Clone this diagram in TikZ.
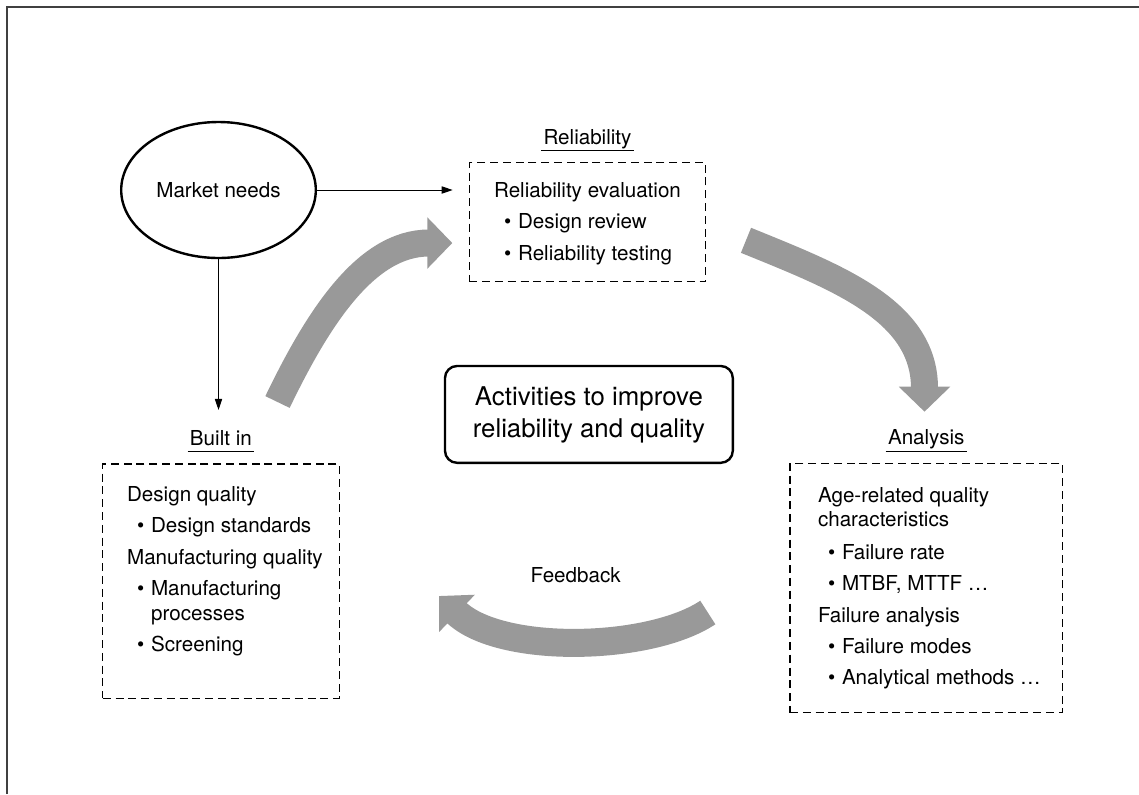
\documentclass[tikz,border=0pt]{standalone}
\usepackage{fontspec}
\setmainfont{TeX Gyre Heros}
\usetikzlibrary{arrows.meta,positioning,shapes.geometric}

\newcommand\boxfont{\fontsize{10.3pt}{12.25pt}\selectfont}
\newcommand\bul{\hspace*{5pt}\makebox[7pt][l]{\textbullet}}
\newcommand\hang{\hspace*{12pt}}

\tikzset{
  frame/.style={draw=black!75, line width=1pt},
  dbox/.style={draw=black, line width=0.6pt, dash pattern=on 4pt off 2.4pt, inner sep=0pt},
  head/.style={inner sep=0pt, text depth=0pt, font=\boxfont},
  body/.style={inner sep=0pt, anchor=base west, font=\boxfont},
  uline/.style={line width=0.5pt},
  arr/.style={-{Triangle[length=5.5pt,width=3.6pt]}, line width=0.5pt},
  bigarr/.style={-{Triangle[length=12.5pt,width=25pt]}, line width=13.5pt, draw=black!40}
}

\begin{document}
\begin{tikzpicture}[x=0.5pt, y=-0.5pt, font=\boxfont, node distance=8.8pt]
  \useasboundingbox (0,0) rectangle (1139,794);
  \draw[frame] (7,794) -- (7,6.5) -- (1139,6.5);

  \node[ellipse, draw, line width=1.2pt, minimum width=95.5pt, minimum height=68pt] (mkt) at (218.5,190) {Market needs};

  % dashed boxes with their underlined headings
  \node[dbox, minimum width=118.2pt, minimum height=59.5pt] (rel) at (587.5,222.2) {};
  \node[dbox, minimum width=118.2pt, minimum height=117.2pt] (built) at (220.9,581.2) {};
  \node[dbox, minimum width=136.2pt, minimum height=124.7pt] (ana) at (926.2,588) {};

  \node[head, above=of rel] (rellab) {Reliability};
  \node[head, above=of built] (builtlab) {Built in};
  \node[head, above=of ana] (analab) {Analysis};
  \foreach \n in {rellab,builtlab,analab}
    \draw[uline] ([xshift=-1pt,yshift=-3pt]\n.south west) -- ([xshift=1pt,yshift=-3pt]\n.south east);

  \node[body] (reltext) at ([xshift=12.5pt,yshift=-17.5pt]rel.north west) {%
    \begin{tabular}[t]{@{}l@{}}
      Reliability evaluation\\[3.5pt]
      \bul Design review\\[3.5pt]
      \bul Reliability testing
    \end{tabular}};
  \node[body] (builttext) at ([xshift=12.3pt,yshift=-18.85pt]built.north west) {%
    \begin{tabular}[t]{@{}l@{}}
      Design quality\\[3.3pt]
      \bul Design standards\\[4pt]
      Manufacturing quality\\[3.3pt]
      \bul Manufacturing\\
      \hang processes\\[3.3pt]
      \bul Screening
    \end{tabular}};
  \node[body] (anatext) at ([xshift=14.1pt,yshift=-19.7pt]ana.north west) {%
    \begin{tabular}[t]{@{}l@{}}
      Age-related quality\\
      characteristics\\[4pt]
      \bul Failure rate\\[3.5pt]
      \bul MTBF, MTTF …\\[3.5pt]
      Failure analysis\\[3.3pt]
      \bul Failure modes\\[3.5pt]
      \bul Analytical methods …
    \end{tabular}};

  \node[draw, rounded corners=6pt, line width=1.2pt, minimum width=143.9pt, minimum height=48.4pt,
    align=center, font=\fontsize{12.9pt}{16pt}\selectfont] (core) at (588.9,414.4)
    {Activities to improve\\reliability and quality};

  \node[inner sep=0pt, anchor=base] (fb) at (575.7,582.7) {Feedback};

  \draw[arr, shorten >=8pt] (mkt.east) -- (mkt.east -| rel.west);
  \draw[arr, shorten >=10pt] (mkt.south) -- (mkt.south |- builtlab.north);

  % wide grey arrows of the loop
  \coordinate (up0) at (277.5,402);
  \coordinate (up1) at (452.3,243);
  \coordinate (dn0) at (746,240.3);
  \coordinate (dn1) at (924.5,411.7);
  \coordinate (fb0) at (707.8,612.5);
  \coordinate (fb1) at (439,596);
  \draw[bigarr] (up0) .. controls (318,318) and (366,243) .. (up1);
  \draw[bigarr] (dn0) .. controls (836,277) and (924.5,310) .. (dn1);
  \draw[bigarr, line width=14pt] (fb0) .. controls (649.4,651.4) and (500.2,654.7) .. (fb1);
\end{tikzpicture}
\end{document}
